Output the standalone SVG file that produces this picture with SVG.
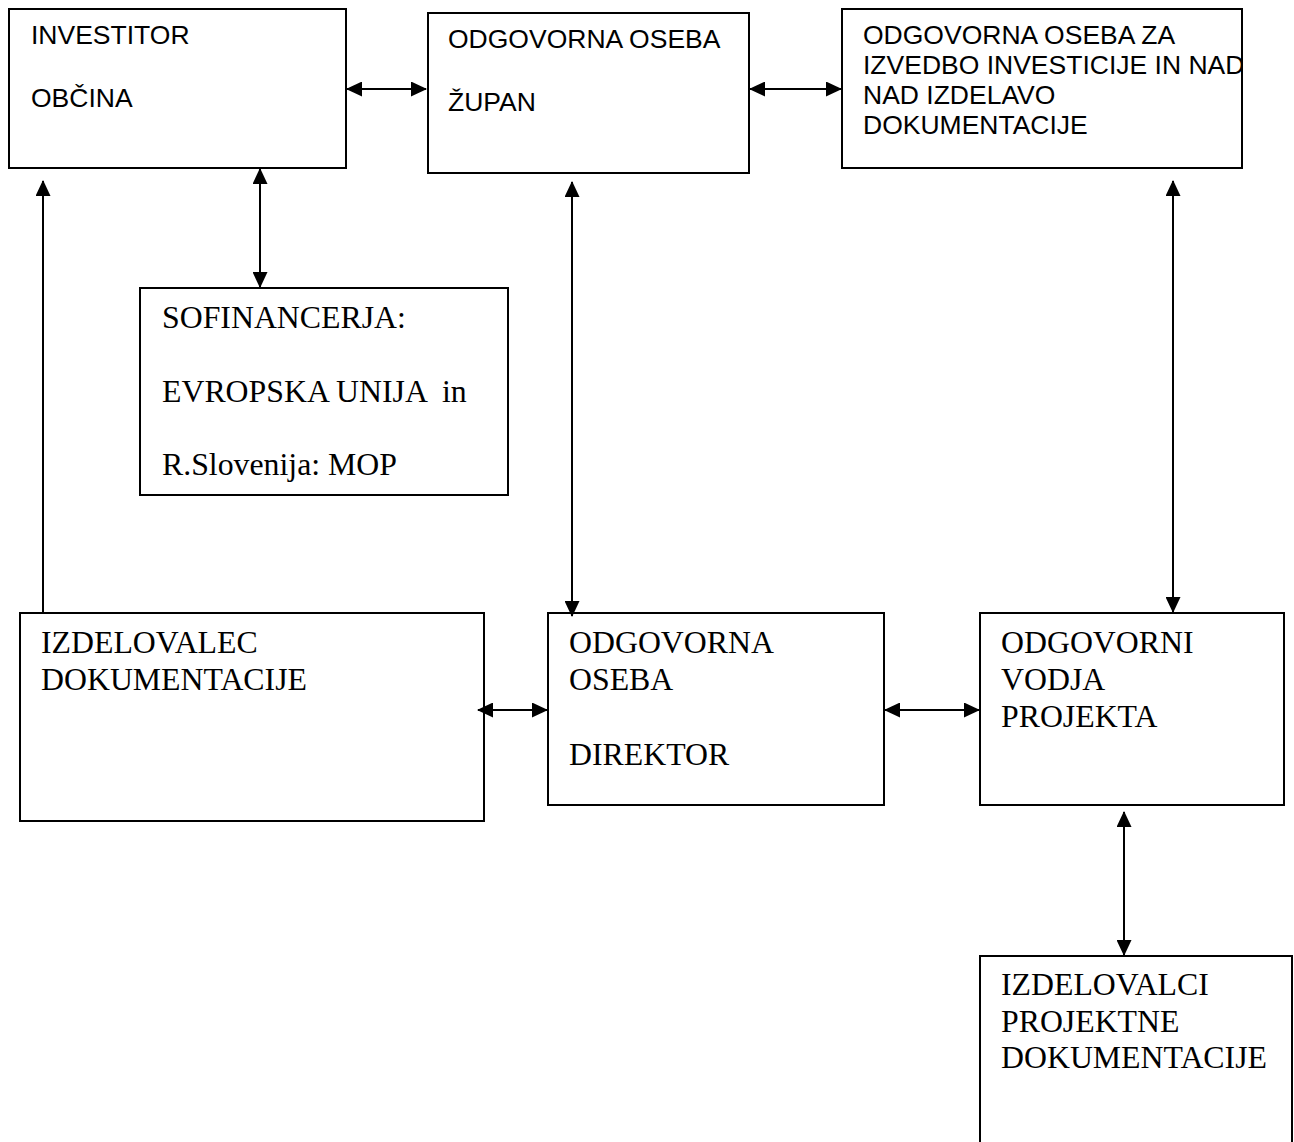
<svg xmlns="http://www.w3.org/2000/svg" width="1294" height="1142" viewBox="0 0 1294 1142">
<defs>
<style>
.box{fill:#fff;stroke:#000;stroke-width:2}
.sans{font-family:"Liberation Sans",Arial,sans-serif;font-size:26.5px;fill:#000}
.serif{font-family:"Liberation Serif","Times New Roman",serif;font-size:31.8px;fill:#000}
.conn{fill:none;stroke:#000;stroke-width:2;marker-start:url(#ah);marker-end:url(#ah)}
.one{fill:none;stroke:#000;stroke-width:2;marker-end:url(#ah)}
</style>
<marker id="ah" viewBox="0 0 16 15" refX="15" refY="7.5" markerWidth="16" markerHeight="15" markerUnits="userSpaceOnUse" orient="auto-start-reverse">
<path d="M0,0 L16,7.5 L0,15 z" fill="#000"/>
</marker>
<clipPath id="c3"><rect x="842" y="9" width="400" height="159"/></clipPath>
</defs>
<rect width="1294" height="1142" fill="#fff"/>

<g id="investitor">
<rect class="box" x="9" y="9" width="337" height="159"/>
<text class="sans" x="31" y="44">INVESTITOR</text>
<text class="sans" x="31" y="107">OBČINA</text>
</g>

<g id="zupan">
<rect class="box" x="428" y="13" width="321" height="160"/>
<text class="sans" x="448" y="48">ODGOVORNA OSEBA</text>
<text class="sans" x="448" y="111">ŽUPAN</text>
</g>

<g id="odgovorna-izvedba">
<rect class="box" x="842" y="9" width="400" height="159"/>
<g clip-path="url(#c3)">
<text class="sans" x="863" y="44">ODGOVORNA OSEBA ZA</text>
<text class="sans" x="863" y="74">IZVEDBO INVESTICIJE IN NAD</text>
<text class="sans" x="863" y="104">NAD IZDELAVO</text>
<text class="sans" x="863" y="134">DOKUMENTACIJE</text>
</g>
</g>

<g id="sofinancerja">
<rect class="box" x="140" y="288" width="368" height="207"/>
<text class="serif" x="162" y="328">SOFINANCERJA:</text>
<text class="serif" x="162" y="402">EVROPSKA UNIJA &#160;in</text>
<text class="serif" x="162" y="475">R.Slovenija: MOP</text>
</g>

<g id="izdelovalec">
<rect class="box" x="20" y="613" width="464" height="208"/>
<text class="serif" x="41" y="653">IZDELOVALEC</text>
<text class="serif" x="41" y="690">DOKUMENTACIJE</text>
</g>

<g id="direktor">
<rect class="box" x="548" y="613" width="336" height="192"/>
<text class="serif" x="569" y="653">ODGOVORNA</text>
<text class="serif" x="569" y="690">OSEBA</text>
<text class="serif" x="569" y="765">DIREKTOR</text>
</g>

<g id="vodja">
<rect class="box" x="980" y="613" width="304" height="192"/>
<text class="serif" x="1001" y="653">ODGOVORNI</text>
<text class="serif" x="1001" y="690">VODJA</text>
<text class="serif" x="1001" y="727">PROJEKTA</text>
</g>

<g id="izdelovalci">
<rect class="box" x="980" y="956" width="312" height="220"/>
<text class="serif" x="1001" y="995">IZDELOVALCI</text>
<text class="serif" x="1001" y="1032">PROJEKTNE</text>
<text class="serif" x="1001" y="1068">DOKUMENTACIJE</text>
</g>

<g id="connectors">
<path class="conn" d="M347,89 H426"/>
<path class="conn" d="M750,89 H841"/>
<path class="conn" d="M260,169 V287"/>
<path class="one" d="M43,613 V181"/>
<path class="conn" d="M572,182 V616"/>
<path class="conn" d="M1173,181 V612"/>
<path class="conn" d="M1124,812 V955"/>
<path class="conn" d="M478,710 H547"/>
<path class="conn" d="M885,710 H979"/>
</g>
</svg>
